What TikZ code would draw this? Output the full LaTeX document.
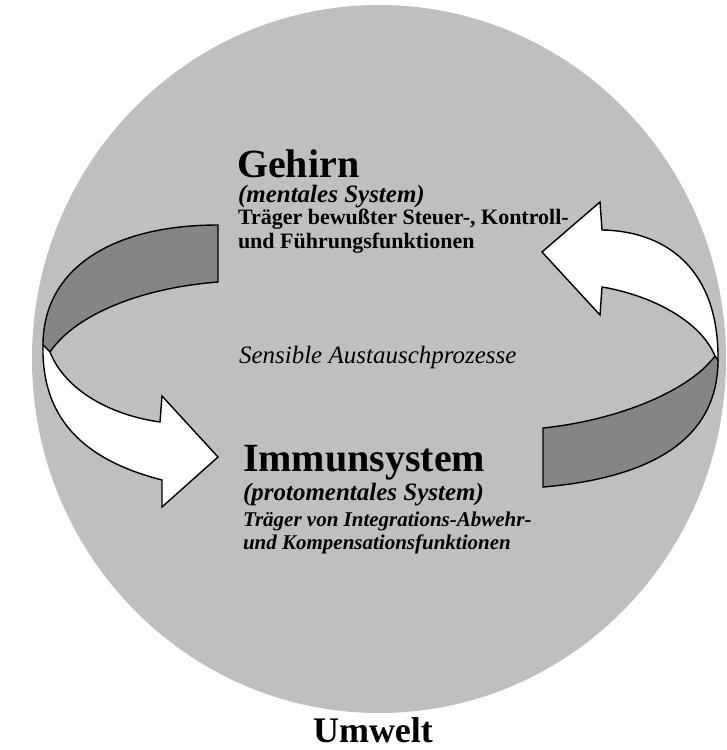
\documentclass[tikz,border=0pt]{standalone}
\usepackage{fontspec}
\setmainfont{Liberation Serif}
\definecolor{circfill}{gray}{0.75}
\definecolor{bandfill}{gray}{0.52}
\begin{document}
\begin{tikzpicture}[x=1pt,y=-1pt,
  ribbon/.style={draw=black,line width=1.4pt,line join=miter},
  backface/.style={ribbon,fill=bandfill},
  frontface/.style={ribbon,fill=white},
  txt/.style={anchor=base west,inner sep=0pt,outer sep=0pt,align=left}]
\useasboundingbox (0,0) rectangle (727,750);
% environment
\fill[circfill] (379,359) ellipse [x radius=347pt, y radius=354pt];

% ---------- left ribbon ----------
\coordinate (LtopR) at (218,225);
\coordinate (LbotR) at (218,282);
\coordinate (LtwO) at (43,345);
\coordinate (LtwI) at (50,352);
\coordinate (LshO) at (162,480);
\coordinate (LshI) at (160,422);
\coordinate (LbarbB) at (162,507);
\coordinate (Ltip) at (218,457);
\coordinate (LbarbT) at (162,396);
\draw[backface] (LtopR) .. controls (110,225) and (43,270) .. (LtwO)
  -- (LtwI) .. controls (75,315) and (140,288) .. (LbotR) -- cycle;
\draw[frontface] (LtwO) .. controls (41,425) and (92,462) .. (LshO)
  -- (LbarbB) -- (Ltip) -- (LbarbT) -- (LshI)
  .. controls (110,415) and (65,390) .. (LtwI) -- cycle;

% ---------- right ribbon ----------
\coordinate (RtopL) at (543,428);
\coordinate (RbotL) at (543,487);
\coordinate (RtwI) at (715,356);
\coordinate (RtwO) at (718,360);
\coordinate (RshO) at (602,230);
\coordinate (RshI) at (602,287);
\coordinate (RbarbT) at (600,202);
\coordinate (Rtip) at (542,252);
\coordinate (RbarbB) at (600,315);
\draw[backface] (RtopL) .. controls (620,420) and (690,390) .. (RtwI)
  -- (RtwO) .. controls (718,440) and (650,478) .. (RbotL) -- cycle;
\draw[frontface] (RtwO) .. controls (719,268) and (665,231) .. (RshO)
  -- (RbarbT) -- (Rtip) -- (RbarbB) -- (RshI)
  .. controls (650,295) and (700,320) .. (RtwI) -- cycle;

% ---------- texts ----------
\node[txt] (gehirn) at (237,177) {\fontsize{40}{40}\selectfont\bfseries Gehirn};
\node[txt] (mental) at (238,202) {\fontsize{25}{25}\selectfont\bfseries\itshape (mentales System)};
\node[txt] (traeger1) at (238,224) {\fontsize{22}{22}\selectfont\bfseries Träger bewußter Steuer-, Kontroll-};
\node[txt] (traeger2) at (238,248) {\fontsize{22}{22}\selectfont\bfseries und Führungsfunktionen};
\node[txt] (sensible) at (239,363) {\fontsize{25}{25}\selectfont\itshape Sensible Austauschprozesse};
\node[txt] (immun) at (243,471) {\fontsize{40}{40}\selectfont\bfseries Immunsystem};
\node[txt] (proto) at (243,500) {\fontsize{25}{25}\selectfont\bfseries\itshape (protomentales System)};
\node[txt] (traeger3) at (243,526) {\fontsize{21}{21}\selectfont\bfseries\itshape Träger von Integrations-Abwehr-};
\node[txt] (traeger4) at (243,549) {\fontsize{21}{21}\selectfont\bfseries\itshape und Kompensationsfunktionen};
\node[anchor=base,inner sep=0pt] (umwelt) at (373,742) {\fontsize{36}{36}\selectfont\bfseries Umwelt};
\end{tikzpicture}
\end{document}
